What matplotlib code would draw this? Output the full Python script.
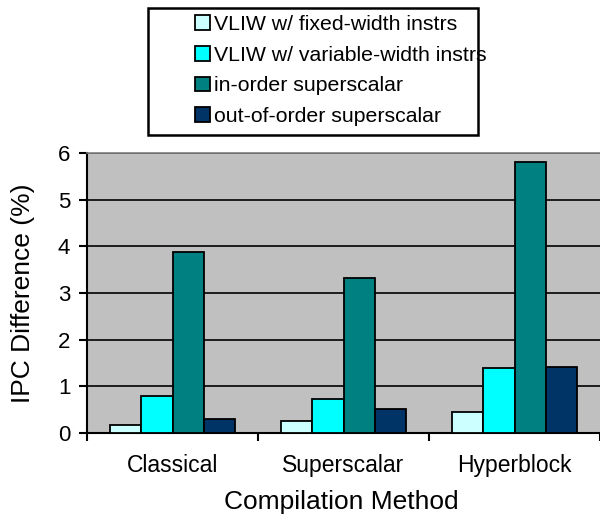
import numpy as np
import matplotlib
matplotlib.use('Agg')
import matplotlib.pyplot as plt
from matplotlib.patches import Rectangle

plt.rcParams['font.family'] = ['Liberation Sans', 'DejaVu Sans']

# data
methods = ["Classical", "Superscalar", "Hyperblock"]
series = [
    "VLIW w/ fixed-width instrs",
    "VLIW w/ variable-width instrs",
    "in-order superscalar",
    "out-of-order superscalar",
]
fixed_width = [0.18, 0.26, 0.44]
variable_width = [0.80, 0.73, 1.40]
in_order = [3.87, 3.32, 5.80]
out_of_order = [0.29, 0.51, 1.42]
colors = ["#CCFFFF", "#00FFFF", "#008080", "#003366"]

values = [fixed_width, variable_width, in_order, out_of_order]

fig = plt.figure(figsize=(6.0, 5.16), dpi=100)
ax = fig.add_axes([0.145, 0.161, 0.855, 0.5425])
ax.set_facecolor("#C0C0C0")

x = np.arange(len(methods))
w = 0.183
handles = []
for i, (vals, name, col) in enumerate(zip(values, series, colors)):
    b = ax.bar(x + (i - 1.5) * w, vals, w, color=col, edgecolor="black",
               linewidth=1.3, label=name, zorder=3)
    handles.append(b)

ax.set_ylim(0, 6)
ax.set_xlim(-0.5, 2.488)
ax.set_yticks(range(7))
ax.yaxis.grid(True, color="black", linewidth=1.2, zorder=1)
ax.set_axisbelow(True)

# boundary ticks between groups, names centred under each group
ax.set_xticks([-0.5, 0.5, 1.5, 2.5])
ax.set_xticklabels([])
ax.set_xticks(x, minor=True)
ax.set_xticklabels(methods, minor=True, fontsize=16.5)
ax.tick_params(axis="x", which="minor", length=0, pad=15)
ax.tick_params(axis="x", which="major", length=6, width=1.5, direction="out")
ax.tick_params(axis="y", length=6, width=1.5, labelsize=16, pad=6)

for s in ["left", "bottom"]:
    ax.spines[s].set_linewidth(1.5)
    ax.spines[s].set_color("black")
ax.spines["top"].set_color("#808080")
ax.spines["top"].set_linewidth(1.2)
ax.spines["right"].set_visible(False)

ax.set_xlabel("Compilation Method", fontsize=19, va="center")
ax.xaxis.set_label_coords(0.495, -0.245)
ax.set_ylabel("IPC Difference (%)", fontsize=19, va="center")
ax.yaxis.set_label_coords(-0.125, 0.5)

# legend box is drawn separately: the reference has a wide left margin
fig.patches.append(Rectangle((148 / 600, 1 - 135 / 516), 330 / 600, 127 / 516,
                             transform=fig.transFigure, fill=False,
                             edgecolor="black", linewidth=1.8))
leg = fig.legend(handles=handles, loc="upper left",
                 bbox_to_anchor=(195 / 600, 1 - 15 / 516), fontsize=15.3,
                 frameon=False, handlelength=0.7, handleheight=0.7,
                 handletextpad=0.2, labelspacing=0.55, borderpad=0,
                 borderaxespad=0)

fig.savefig("out.png", dpi=100)
